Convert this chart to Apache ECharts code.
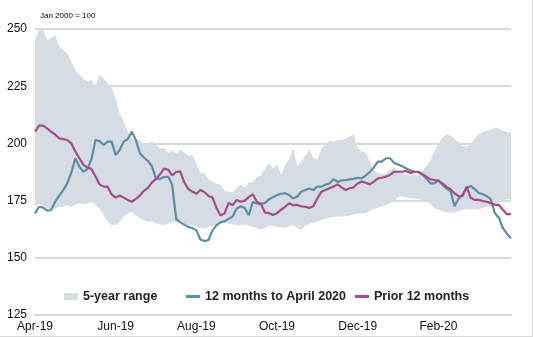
<!DOCTYPE html>
<html><head><meta charset="utf-8">
<script src="https://cdn.jsdelivr.net/npm/echarts@6/dist/echarts.min.js"></script>
<style>html,body{margin:0;padding:0;background:#fff}#c{width:533px;height:337px}</style>
</head><body><div id="c"></div>
<script>
const tickLabels = ['Apr-19','Jun-19','Aug-19','Oct-19','Dec-19','Feb-20'];
const labelStep = 20;

const rangeLow = [173.1,173.4,172.3,171.6,171.3,171.6,172.3,172.3,173.1,172.3,173.1,173.8,173.4,173.8,174.5,173.1,171.6,168.7,165.8,164.3,
164.3,165.8,168.0,169.4,170.2,168.4,167.5,166.5,165.8,166.1,165.0,164.5,164.3,165.0,165.8,165.5,165.8,165.0,164.3,164.5,
163.5,163.0,162.9,163.5,164.0,164.3,165.0,165.5,165.0,164.5,164.3,164.3,164.5,164.0,163.5,163.0,162.5,163.0,164.0,164.0,
163.5,163.5,163.0,163.8,164.3,163.0,162.3,164.0,164.8,165.3,166.0,166.5,167.2,167.5,167.8,168.0,168.0,168.2,168.5,169.0,
169.4,169.5,169.5,170.5,171.3,172.0,172.5,173.0,174.0,174.5,176.5,177.0,176.5,176.0,176.0,175.8,175.3,175.0,173.5,171.8,
170.9,170.2,169.8,169.6,169.8,170.5,171.0,171.6,171.0,171.6,171.0,171.8,172.3,172.5,173.5,174.5,175.3,175.5,175.5];

const rangeHigh = [245.2,249.6,249.6,245.2,245.9,247.4,242.3,240.8,239.4,235.7,232.1,229.9,228.4,227.0,227.7,224.8,229.9,228.4,226.3,224.1,
219.7,213.1,209.5,205.1,202.2,201.5,201.5,199.6,200.0,200.8,200.0,197.5,198.1,195.7,197.1,195.7,197.1,196.1,194.6,194.9,
191.3,186.9,186.9,184.4,183.0,182.5,181.8,179.2,178.9,178.6,180.4,182.1,180.6,183.0,183.0,185.5,185.9,189.1,191.3,189.0,
191.0,186.0,190.5,193.0,198.0,190.0,192.0,194.5,197.5,193.5,193.0,197.5,199.5,201.5,200.5,201.5,201.5,202.0,203.0,204.0,
198.0,196.5,196.0,192.0,188.5,187.0,186.5,187.0,188.5,189.5,188.0,187.0,186.5,186.0,186.5,186.0,188.0,190.0,192.5,196.5,
200.0,202.5,204.0,203.5,202.0,200.5,199.0,198.5,199.5,202.0,204.0,205.0,205.5,206.0,207.0,206.5,205.5,205.0,204.5];

const last12 = [169.4,172.3,171.9,170.6,170.9,174.5,177.2,179.6,182.5,187.2,193.5,189.8,187.6,188.8,193.2,201.5,201.0,199.3,200.8,200.8,
194.9,197.1,200.8,201.9,205.1,201.5,195.7,193.8,192.3,190.0,184.5,184.5,185.3,185.5,182.0,167.0,165.5,164.5,163.5,163.0,
162.0,158.0,157.3,157.8,162.0,164.3,165.5,166.0,167.0,168.0,171.5,172.5,171.8,168.6,174.4,173.8,173.6,174.0,175.5,176.5,
177.4,178.0,178.2,177.4,176.0,176.7,178.9,179.6,180.3,179.6,181.1,181.1,182.0,182.5,184.4,183.2,183.8,184.0,184.3,184.5,
185.0,184.7,186.0,187.5,189.5,192.0,192.0,193.5,193.5,191.5,190.8,190.0,189.1,188.2,187.6,187.5,186.5,184.8,182.5,182.5,
184.0,182.0,180.3,179.2,172.5,175.8,177.5,180.5,181.4,180.0,178.3,177.8,177.0,175.5,169.5,167.5,163.0,160.5,158.5];

const prior12 = [205.1,207.8,207.8,206.6,205.1,203.9,202.2,201.9,201.5,200.0,196.4,193.5,190.6,189.4,188.8,185.5,182.1,181.1,181.1,177.7,
176.3,177.2,176.3,175.3,174.5,175.7,177.2,179.3,180.6,183.0,184.5,186.5,189.0,188.5,186.0,187.5,187.8,183.0,180.0,179.0,
178.0,179.6,178.8,177.0,176.3,171.8,168.5,169.5,174.0,173.0,175.3,174.5,175.0,176.5,177.8,174.5,173.5,169.8,169.5,168.7,
169.5,171.0,172.3,173.8,173.0,173.1,172.5,172.3,171.8,172.5,176.0,178.9,179.6,180.4,181.2,182.1,180.8,179.6,180.4,180.8,
182.5,183.3,182.8,182.1,183.3,184.7,185.0,185.5,186.2,187.6,187.6,187.6,188.0,187.0,187.6,187.6,186.5,185.5,184.3,184.0,
183.5,182.5,181.0,180.0,178.2,176.9,177.0,181.1,176.2,175.3,175.3,174.8,174.5,173.9,173.1,173.1,171.0,169.0,169.2];

const categories = last12.map((_, i) => {
  const d = new Date(Date.UTC(2019, 3, 1) + Math.round(i * 61 / labelStep) * 86400000);
  return d.toISOString().slice(0, 10);
});
const rangeSpan = rangeHigh.map((v, i) => +(v - rangeLow[i]).toFixed(2));

const FONT = '"Liberation Sans", Arial, sans-serif';
const legendText = {fontSize: 12.5, fontWeight: 'bold', color: '#222', fontFamily: FONT};

const chart = echarts.init(document.getElementById('c'), null, {renderer: 'canvas'});
chart.setOption({
  animation: false,
  backgroundColor: '#fff',
  textStyle: {fontFamily: FONT},
  grid: {left: 35, right: 22, top: 29, bottom: 22, containLabel: false},
  xAxis: {
    type: 'category', data: categories, boundaryGap: false,
    axisLine: {show: true, lineStyle: {color: '#d9d9d9', width: 2}},
    axisTick: {show: false},
    splitLine: {show: false},
    axisLabel: {
      interval: (i) => i % labelStep === 0,
      formatter: (v, i) => tickLabels[i / labelStep] || '',
      color: '#111', fontSize: 12, margin: 6, fontFamily: FONT
    }
  },
  yAxis: {
    type: 'value', min: 125, max: 250, interval: 25,
    axisLine: {show: false}, axisTick: {show: false},
    axisLabel: {color: '#111', fontSize: 12, margin: 8, fontFamily: FONT},
    splitLine: {lineStyle: {color: '#d9d9d9', width: 2}}
  },
  legend: [
    {data: ['5-year range'], left: 64, top: 290, padding: 0, itemWidth: 14, itemHeight: 7, icon: 'rect', selectedMode: false, textStyle: legendText},
    {data: ['12 months to April 2020'], left: 186, top: 290, padding: 0, itemWidth: 14, itemHeight: 3, icon: 'rect', selectedMode: false, textStyle: legendText},
    {data: ['Prior 12 months'], left: 355, top: 290, padding: 0, itemWidth: 14, itemHeight: 3, icon: 'rect', selectedMode: false, textStyle: legendText}
  ],
  graphic: [
    {type: 'text', left: 40, top: 12, style: {text: 'Jan 2000 = 100', fontSize: 8, fill: '#000', fontFamily: FONT}},
    {type: 'line', shape: {x1: 532.5, y1: 0, x2: 532.5, y2: 337}, style: {stroke: '#d9d9d9', lineWidth: 1}},
    {type: 'line', shape: {x1: 0, y1: 336.5, x2: 533, y2: 336.5}, style: {stroke: '#d9d9d9', lineWidth: 1}}
  ],
  series: [
    {name: 'lower', type: 'line', stack: 'band', data: rangeLow, symbol: 'none', silent: true,
     lineStyle: {width: 0, opacity: 0}, itemStyle: {opacity: 0}},
    {name: '5-year range', type: 'line', stack: 'band', data: rangeSpan, symbol: 'none', silent: true,
     color: '#d6dce4', lineStyle: {width: 0}, areaStyle: {color: '#d6dce4', opacity: 1}},
    {name: '12 months to April 2020', type: 'line', data: last12, symbol: 'none',
     color: '#5b8ea3', lineStyle: {width: 2.2, color: '#5b8ea3'}},
    {name: 'Prior 12 months', type: 'line', data: prior12, symbol: 'none',
     color: '#a54b87', lineStyle: {width: 2.2, color: '#a54b87'}}
  ]
});
</script>
</body></html>
